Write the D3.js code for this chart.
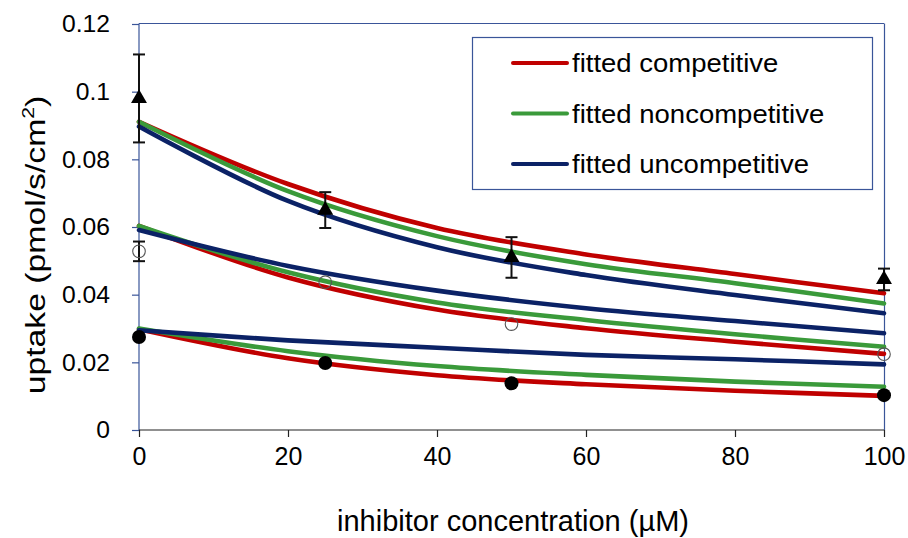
<!DOCTYPE html>
<html>
<head>
<meta charset="utf-8">
<script src="https://cdn.jsdelivr.net/npm/d3@7"></script>
<style>
  body { margin: 0; background: #fff; }
  text { font-family: "Liberation Sans", Arial, sans-serif; fill: #000; }
</style>
</head>
<body>
<div id="chart"></div>
<script>
// measured points (inhibitor concentration, uM)
const pointConc = [0, 25, 50, 100];
const triangleUptake = [0.098, 0.065, 0.051, 0.0445];
const triangleErr = [0.013, 0.0053, 0.006, 0.0032];
const openUptake = [0.0528, 0.0437, 0.0313, 0.0224];
const openErr = [0.0029, 0, 0, 0];
const filledUptake = [0.0275, 0.0198, 0.0138, 0.0103];

// fitted curves
const fitConc = [0, 20, 40, 60, 80, 100];
const compHigh = [0.0911, 0.0727, 0.0597, 0.0519, 0.0461, 0.0404];
const nonHigh = [0.0911, 0.0706, 0.0573, 0.049, 0.0434, 0.0374];
const uncHigh = [0.0897, 0.0677, 0.054, 0.0458, 0.0399, 0.0345];
const compMid = [0.0603, 0.0451, 0.0356, 0.0301, 0.0261, 0.0225];
const nonMid = [0.0603, 0.0466, 0.0377, 0.0325, 0.0283, 0.0246];
const uncMid = [0.0591, 0.0485, 0.0412, 0.036, 0.0322, 0.0286];
const compLow = [0.0298, 0.0212, 0.0162, 0.0135, 0.0116, 0.0101];
const nonLow = [0.03, 0.0233, 0.0189, 0.0163, 0.0143, 0.0128];
const uncLow = [0.0295, 0.0265, 0.0243, 0.0222, 0.0209, 0.0194];

const xTicks = [0, 20, 40, 60, 80, 100];
const yTicks = [0, 0.02, 0.04, 0.06, 0.08, 0.1, 0.12];
const legendLabels = ["fitted competitive", "fitted noncompetitive", "fitted uncompetitive"];

const RED = "#c00000", GREEN = "#3a9a3a", NAVY = "#0b2266", FRAME = "#3a5599";

const width = 908, height = 538;
const x = d3.scaleLinear().domain([0, 100]).range([139, 884]);
const y = d3.scaleLinear().domain([0, 0.12]).range([430, 24]);

const svg = d3.select("#chart").append("svg")
  .attr("width", width).attr("height", height);

// stretch a text to a wider width (the source font renders wide)
function stretch(sel, f) {
  sel.each(function () {
    const w = this.getComputedTextLength();
    d3.select(this).attr("textLength", w * f).attr("lengthAdjust", "spacingAndGlyphs");
  });
}

// frame: top + right in blue
svg.append("line").attr("x1", x(0)).attr("x2", x(100)).attr("y1", 23.5).attr("y2", 23.5)
  .attr("stroke", FRAME).attr("stroke-width", 1.2);
svg.append("line").attr("x1", x(100) + 0.5).attr("x2", x(100) + 0.5).attr("y1", 23.5).attr("y2", y(0))
  .attr("stroke", FRAME).attr("stroke-width", 1.2);

// y axis
const yAxis = svg.append("g").attr("transform", `translate(${x(0)},0)`)
  .call(d3.axisLeft(y).tickValues(yTicks).tickSize(7).tickPadding(22).tickFormat(d => d3.format("")(+d.toFixed(2))));
yAxis.select(".domain").attr("stroke", FRAME).attr("stroke-width", 1.2).attr("d", `M0,23.5V${y(0)}`);
yAxis.selectAll(".tick line").attr("stroke", FRAME).attr("stroke-width", 1.2);
yAxis.selectAll(".tick text").attr("font-size", 23.5).attr("dy", "0.33em");
stretch(yAxis.selectAll(".tick text"), 1.05);

// x axis
const xAxis = svg.append("g").attr("transform", `translate(0,${y(0)})`)
  .call(d3.axisBottom(x).tickValues(xTicks).tickSize(7).tickPadding(22));
xAxis.select(".domain").attr("stroke", "#222").attr("stroke-width", 1.2).attr("d", `M${x(0)},0H${x(100)}`);
xAxis.selectAll(".tick line").attr("stroke", "#222").attr("stroke-width", 1.2);
xAxis.selectAll(".tick text").attr("font-size", 25).attr("dy", "0.25em");

// axis titles
svg.append("text").attr("x", 513).attr("y", 531).attr("text-anchor", "middle")
  .attr("font-size", 29).text("inhibitor concentration (\u00b5M)");

const yt = svg.append("text").attr("text-anchor", "middle")
  .attr("transform", "translate(45,245) rotate(-90) scale(1.25,1)")
  .attr("font-size", 27);
yt.append("tspan").text("uptake (pmol/s/cm");
yt.append("tspan").attr("font-size", 17).attr("dy", -11).text("2");
yt.append("tspan").attr("dy", 11).text(")");

// fitted curves
const curveGroups = [
  [compHigh, RED], [nonHigh, GREEN], [uncHigh, NAVY],
  [compMid, RED], [nonMid, GREEN], [uncMid, NAVY],
  [compLow, RED], [nonLow, GREEN], [uncLow, NAVY]
];
const line = d3.line()
  .x((d, i) => x(fitConc[i]))
  .y(d => y(d))
  .curve(d3.curveCatmullRom.alpha(0.5));

svg.append("g").selectAll("path").data(curveGroups).join("path")
  .attr("d", d => line(d[0]))
  .attr("fill", "none")
  .attr("stroke", d => d[1])
  .attr("stroke-width", 4.6)
  .attr("stroke-linecap", "round");

// error bars
function errorBars(vals, errs) {
  const g = svg.append("g").attr("stroke", "#111").attr("stroke-width", 2);
  pointConc.forEach((c, i) => {
    if (!errs[i]) return;
    const cx = x(c), y1 = y(vals[i] + errs[i]), y2 = y(vals[i] - errs[i]);
    g.append("line").attr("x1", cx).attr("x2", cx).attr("y1", y1).attr("y2", y2);
    g.append("line").attr("x1", cx - 6).attr("x2", cx + 6).attr("y1", y1).attr("y2", y1);
    g.append("line").attr("x1", cx - 6).attr("x2", cx + 6).attr("y1", y2).attr("y2", y2);
  });
}
errorBars(triangleUptake, triangleErr);
errorBars(openUptake, openErr);

// markers
svg.append("g").selectAll("path").data(triangleUptake).join("path")
  .attr("d", d3.symbol(d3.symbolTriangle, 110))
  .attr("transform", (d, i) => `translate(${x(pointConc[i])},${y(d)})`)
  .attr("fill", "#000");

svg.append("g").selectAll("circle").data(openUptake).join("circle")
  .attr("cx", (d, i) => x(pointConc[i])).attr("cy", d => y(d)).attr("r", 6.3)
  .attr("fill", "none").attr("stroke", "#555").attr("stroke-width", 1.1);

svg.append("g").selectAll("circle").data(filledUptake).join("circle")
  .attr("cx", (d, i) => x(pointConc[i])).attr("cy", d => y(d)).attr("r", 7)
  .attr("fill", "#000");

// legend
const legend = svg.append("g");
legend.append("rect").attr("x", 472.5).attr("y", 37.5).attr("width", 400).attr("height", 152)
  .attr("fill", "#fff").attr("stroke", FRAME).attr("stroke-width", 1.2);
const legendColors = [RED, GREEN, NAVY];
const rowY = d3.scalePoint().domain(legendLabels).range([63, 164]);
legendLabels.forEach((lab, i) => {
  legend.append("line").attr("x1", 513).attr("x2", 567)
    .attr("y1", rowY(lab)).attr("y2", rowY(lab))
    .attr("stroke", legendColors[i]).attr("stroke-width", 4).attr("stroke-linecap", "round");
  legend.append("text").attr("x", 572).attr("y", rowY(lab) + 9)
    .attr("font-size", 25).text(lab);
});
stretch(legend.selectAll("text"), 1.1);
</script>
</body>
</html>
